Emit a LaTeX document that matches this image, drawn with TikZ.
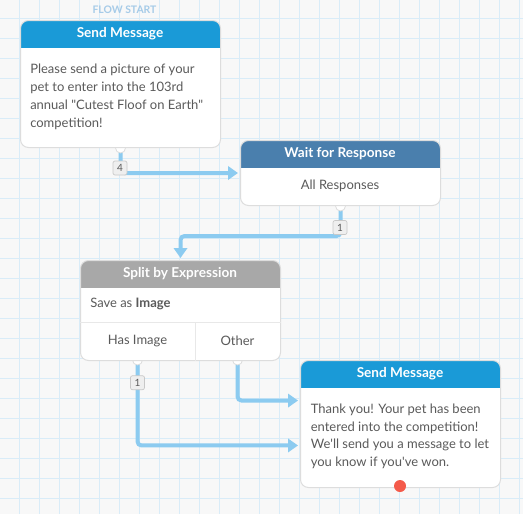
\documentclass[tikz,border=0pt]{standalone}
\usepackage{fontspec}
\setmainfont{Lato}
\usetikzlibrary{arrows.meta}
\definecolor{bgc}{HTML}{F8F8F8}
\definecolor{gridc}{HTML}{D9ECF8}
\definecolor{hdrblue}{HTML}{1A9AD7}
\definecolor{hdrsteel}{HTML}{4A7FAD}
\definecolor{hdrgray}{HTML}{A8A8A8}
\definecolor{connc}{HTML}{8CCBF0}
\definecolor{txtc}{HTML}{5A5A5A}
\definecolor{edgec}{HTML}{DDDDDD}
\definecolor{sepc}{HTML}{E8E8E8}
\definecolor{flowc}{HTML}{A6CBE8}
\definecolor{reddot}{HTML}{F45A4A}
\definecolor{badgefill}{HTML}{EFEFEF}
\definecolor{badgeline}{HTML}{C8C8C8}
\pgfdeclarelayer{gridlayer}
\pgfdeclarelayer{wirelayer}
\pgfsetlayers{gridlayer,wirelayer,main}
\begin{document}
\begin{tikzpicture}[x=0.75pt,y=-0.75pt,
 card/.style={draw=edgec, line width=0.75pt, fill=white, rounded corners=6pt, inner sep=0pt, anchor=north west, minimum width=150pt},
 hdr/.style={path picture={\fill[#1, sharp corners] (path picture bounding box.north west) rectangle ([yshift=-20.25pt]path picture bounding box.north east);}},
 title/.style={text=white, font=\bfseries\fontsize{10.2}{12}\selectfont, inner sep=0pt},
 body/.style={text=txtc, font=\fontsize{9.75}{13.3}\selectfont, inner sep=0pt},
 wire/.style={draw=connc, line width=3pt, rounded corners=3pt},
 tip/.style={-{Triangle[length=7.5pt,width=10pt]}, shorten >=1.5pt},
 badge/.style={draw=badgeline, fill=badgefill, line width=0.5pt, rounded corners=1.5pt, minimum size=10.5pt, inner sep=0pt, text=txtc, font=\fontsize{7.5}{8}\selectfont},
 notch/.style={circle, draw=edgec, line width=0.6pt, fill=white, minimum size=7.5pt, inner sep=0pt}
]
\useasboundingbox (0,0) rectangle (523,514);
\begin{pgfonlayer}{gridlayer}
\fill[bgc] (0,0) rectangle (523,514);
\foreach \gx in {19.5,39.5,...,520}{\draw[gridc, line width=0.75pt] (\gx,0) -- (\gx,514);}
\foreach \gy in {18.5,38.5,...,514}{\draw[gridc, line width=0.75pt] (0,\gy) -- (523,\gy);}
\end{pgfonlayer}

\node[text=flowc, font=\bfseries\fontsize{7.8}{9}\selectfont] (fs) at (124.5,10) {FLOW START};

% cards
\node[card, hdr=hdrblue, minimum height=95.25pt] (sm1) at (20,20) {};
\node[title] (sm1t) at (120,33.5) {Send Message};
\node[body, align=left, anchor=north west] (sm1b) at (30,64) {Please send a picture of your\\pet to enter into the 103rd\\annual \textquotedbl Cutest Floof on Earth\textquotedbl\\competition!};

\node[card, hdr=hdrsteel, minimum height=48.75pt] (wait) at (240,140) {};
\node[title] (waitt) at (340,153.5) {Wait for Response};
\node[body] (waitb) at (340,186) {All Responses};

\node[card, hdr=hdrgray, minimum height=75pt] (split) at (80,260) {};
\node[title] (splitt) at (180,273.5) {Split by Expression};
\node[body, anchor=west] (splitb) at (90,304) {Save as \textbf{Image}};
\draw[sepc, line width=0.75pt] ([yshift=-46.5pt]split.north west) -- ([yshift=-46.5pt]split.north east);
\draw[sepc, line width=0.75pt] ([xshift=86.25pt,yshift=-46.5pt]split.north west) -- ([xshift=86.25pt]split.south west);
\node[body] (hasimgt) at (137.5,341) {Has Image};
\node[body] (othert) at (237.5,341) {Other};
\coordinate (hasimg) at (137.5,360);
\coordinate (other) at (237.5,360);

\node[card, hdr=hdrblue, minimum height=95.25pt] (sm2) at (300,360) {};
\node[title] (sm2t) at (400,373.5) {Send Message};
\node[body, align=left, anchor=north west] (sm2b) at (310.5,403.5) {Thank you! Your pet has been\\entered into the competition!\\We\textquotesingle ll send you a message to let\\you know if you\textquotesingle ve won.};

% connectors
\begin{pgfonlayer}{wirelayer}
\draw[wire, tip] (sm1.south) |- (wait.west);
\draw[wire, tip] (wait.south) -- ++(0,30) -| (split.north);
\draw[wire, tip] (other) |- ([yshift=17.6pt]sm2.west);
\draw[wire, tip] (hasimg) |- ([yshift=-16.1pt]sm2.west);
\node[notch] (n1) at (sm1.south) {};
\node[notch] (n2) at (wait.south) {};
\node[notch] (n3) at (hasimg) {};
\node[notch] (n4) at (other) {};
\end{pgfonlayer}

\node[badge] (b4) at (120,168) {4};
\node[badge] (b1a) at (340,227.5) {1};
\node[badge] (b1b) at (137.5,382.7) {1};
\node[circle, fill=reddot, minimum size=9pt, inner sep=0pt] (enddot) at (400,486) {};
\end{tikzpicture}
\end{document}
